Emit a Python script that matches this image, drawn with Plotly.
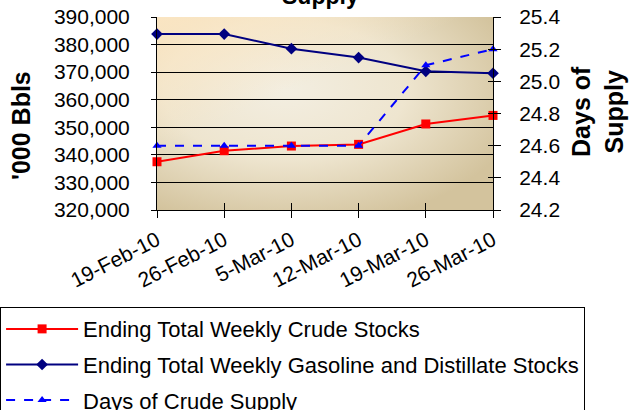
import base64
import plotly.graph_objects as go

# === Data ===
dates = ["19-Feb-10", "26-Feb-10", "5-Mar-10", "12-Mar-10", "19-Mar-10", "26-Mar-10"]
crude_stocks = [337500, 341500, 343200, 343800, 351200, 354300]
gas_dist_stocks = [383800, 383800, 378500, 375300, 370300, 369600]
days_supply = [24.6, 24.6, 24.6, 24.6, 25.1, 25.2]

left_ticks = [320000, 330000, 340000, 350000, 360000, 370000, 380000, 390000]
right_ticks = [24.2, 24.4, 24.6, 24.8, 25.0, 25.2, 25.4]

xs = list(range(len(dates)))
FONT = "Liberation Sans, Arial, sans-serif"

# === Plot area background (Excel style gradient) ===
svg = """<svg xmlns="http://www.w3.org/2000/svg" width="336" height="193" viewBox="0 0 100 100" preserveAspectRatio="none">
<defs>
<radialGradient id="g" cx="0.38" cy="0.38" r="0.72" gradientUnits="objectBoundingBox">
<stop offset="0" stop-color="#F3EEE1"/>
<stop offset="0.5" stop-color="#EEE5CF"/>
<stop offset="1" stop-color="#D3C39D"/>
</radialGradient>
<linearGradient id="p" x1="0" y1="0" x2="0.6" y2="0.8">
<stop offset="0" stop-color="#FFE8C4" stop-opacity="0.85"/>
<stop offset="0.55" stop-color="#FFE8C4" stop-opacity="0"/>
</linearGradient>
</defs>
<rect x="0" y="0" width="100" height="100" fill="url(#g)"/>
<rect x="0" y="0" width="100" height="100" fill="url(#p)"/>
</svg>"""
bg_src = "data:image/svg+xml;base64," + base64.b64encode(svg.encode()).decode()

fig = go.Figure()

fig.add_trace(go.Scatter(
    x=xs, y=crude_stocks, name="Ending Total Weekly Crude Stocks",
    mode="lines+markers", line=dict(color="#FF0000", width=2),
    marker=dict(symbol="square", size=9, color="#FF0000"),
    cliponaxis=False, legendgroup="a",
))
fig.add_trace(go.Scatter(
    x=xs, y=gas_dist_stocks, name="Ending Total Weekly Gasoline and Distillate Stocks",
    mode="lines+markers", line=dict(color="#000080", width=2),
    marker=dict(symbol="diamond", size=9, color="#000080"),
    cliponaxis=False, legendgroup="b",
))
fig.add_trace(go.Scatter(
    x=xs, y=days_supply, name="Days of Crude Supply", yaxis="y2",
    mode="lines+markers", line=dict(color="#0000FF", width=2, dash="dash"),
    marker=dict(symbol="triangle-up", size=8, color="#0000FF"),
    cliponaxis=False, legendgroup="c",
))

tickfont = dict(family=FONT, size=21, color="black")

fig.update_layout(
    width=632, height=410,
    margin=dict(l=157, r=139, t=17, b=200, autoexpand=False),
    paper_bgcolor="white",
    plot_bgcolor="rgba(0,0,0,0)",
    showlegend=True,
    images=[dict(source=bg_src, xref="paper", yref="paper", x=0, y=1,
                 sizex=1, sizey=1, sizing="stretch", layer="below")],
    xaxis=dict(
        range=[0, 5], tickvals=xs, ticktext=dates, tickangle=-27,
        ticks="outside", ticklen=7, tickcolor="black", tickwidth=1,
        showline=True, linecolor="black", linewidth=1,
        showgrid=False, zeroline=False, tickfont=tickfont,
        ticklabelstandoff=2,
    ),
    yaxis=dict(
        range=[320000, 390000], tickvals=left_ticks, tickformat=",",
        ticks="outside", ticklen=5, tickcolor="black",
        showline=True, linecolor="black", linewidth=1,
        showgrid=True, gridcolor="black", gridwidth=1, zeroline=False,
        tickfont=tickfont, ticklabelstandoff=17,
    ),
    yaxis2=dict(
        range=[24.2, 25.4], tickvals=right_ticks, tickformat=".1f",
        overlaying="y", side="right",
        ticks="outside", ticklen=7, tickcolor="black",
        showline=True, linecolor="black", linewidth=1,
        showgrid=False, zeroline=False, tickfont=tickfont,
        ticklabelstandoff=14,
    ),
    # inner halves of the crossing tick marks
    xaxis3=dict(range=[0, 5], tickvals=xs, ticks="inside", ticklen=7,
                tickcolor="black", showticklabels=False, showgrid=False,
                zeroline=False, overlaying="x", side="bottom"),
    yaxis3=dict(range=[320000, 390000], tickvals=left_ticks, ticks="inside",
                ticklen=5, tickcolor="black", showticklabels=False,
                showgrid=False, zeroline=False, overlaying="y", side="left"),
    yaxis4=dict(range=[24.2, 25.4], tickvals=right_ticks, ticks="inside",
                ticklen=5, tickcolor="black", showticklabels=False,
                showgrid=False, zeroline=False, overlaying="y", side="right"),
    legend=dict(
        x=-0.467, y=-0.503, xanchor="left", yanchor="top",
        bordercolor="black", borderwidth=1, bgcolor="white",
        font=dict(family=FONT, size=22, color="black"),
        itemwidth=72, tracegroupgap=4, traceorder="grouped",
    ),
    annotations=[
        dict(text="<b>Supply</b>", xref="paper", yref="paper", x=0.488, y=1.031,
             xanchor="center", yanchor="bottom", showarrow=False,
             font=dict(family=FONT, size=23, color="black")),
        dict(text="<b>'000 Bbls</b>", xref="paper", yref="paper", x=-0.405, y=0.44,
             xanchor="center", yanchor="middle", textangle=-90, showarrow=False,
             font=dict(family=FONT, size=25, color="black")),
        dict(text="<b>Days of<br>Supply</b>", xref="paper", yref="paper", x=1.3125, y=0.508,
             xanchor="center", yanchor="middle", textangle=-90, showarrow=False,
             font=dict(family=FONT, size=25, color="black")),
    ],
)

# dummy traces so the overlay axes are drawn
fig.add_trace(go.Scatter(x=[None], y=[None], xaxis="x3", yaxis="y3", showlegend=False, hoverinfo="skip"))
fig.add_trace(go.Scatter(x=[None], y=[None], xaxis="x3", yaxis="y4", showlegend=False, hoverinfo="skip"))

# drop the default page margin so the figure sits at the window corner
fig.write_html("out.html", config={"displayModeBar": False},
               post_script="document.body.style.margin='0';")
